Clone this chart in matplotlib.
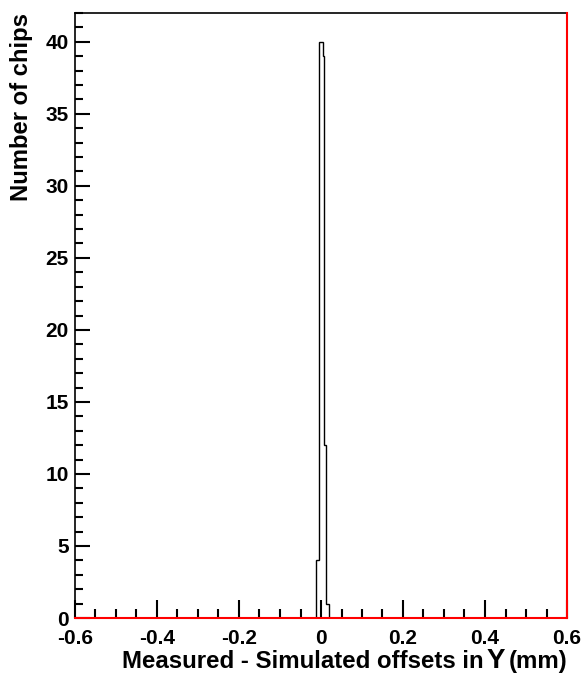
import numpy as np
import matplotlib.pyplot as plt
from matplotlib.ticker import MultipleLocator

# histogram of measured - simulated Y offsets (mm), bin width 0.004
bin_edges = [-0.012, -0.008, -0.004, 0.0, 0.004, 0.008, 0.012, 0.016, 0.020]
chip_counts = [4, 4, 40, 40, 39, 12, 1, 1]

x_ticks = [-0.6, -0.4, -0.2, 0, 0.2, 0.4, 0.6]
x_tick_labels = ['-0.6', '-0.4', '-0.2', '0', '0.2', '0.4', '0.6']
y_ticks = [0, 5, 10, 15, 20, 25, 30, 35, 40]

plt.rcParams['font.family'] = ['Liberation Sans', 'DejaVu Sans']
plt.rcParams['font.weight'] = 'bold'

W, H = 588, 683
fig = plt.figure(figsize=(W / 100, H / 100), dpi=100)
ax = fig.add_axes([75 / W, 1 - 618 / H, (567 - 75) / W, (618 - 13) / H])

ax.stairs(chip_counts, bin_edges, color='black', lw=1.0)

ax.set_xlim(-0.6, 0.6)
ax.set_ylim(0, 42)
ax.set_xticks(x_ticks)
ax.set_xticklabels(x_tick_labels)
ax.set_yticks(y_ticks)
ax.xaxis.set_minor_locator(MultipleLocator(0.05))
ax.yaxis.set_minor_locator(MultipleLocator(1))

ax.tick_params(which='both', direction='in', top=False, right=False, width=1.5,
               labelsize=15, color='black')
ax.tick_params(axis='x', which='major', length=13, pad=8)
ax.tick_params(axis='x', which='minor', length=6.5)
ax.tick_params(axis='y', which='major', length=11, pad=4.5)
ax.tick_params(axis='y', which='minor', length=5.5)
for lab in ax.get_xticklabels() + ax.get_yticklabels():
    lab.set_fontweight('bold')

for s in ax.spines.values():
    s.set_linewidth(1.2)
    s.set_color('black')

# red axis lines on bottom and right, like the original
ax.axhline(0, color='red', lw=1.5, zorder=5, clip_on=False)
ax.axvline(0.6, color='red', lw=1.5, zorder=5, clip_on=False)

# x axis title, right aligned, with a bigger Y
yb = 1 - 668 / H
fig.text(484 / W, yb, 'Measured - Simulated offsets in', ha='right', va='baseline',
         fontsize=17.3, fontweight='bold')
fig.text(505 / W, yb, 'Y', ha='right', va='baseline', fontsize=20)
fig.text(567 / W, yb, '(mm)', ha='right', va='baseline', fontsize=17.3, fontweight='bold')

fig.text(22 / W, 1 - 13 / H, 'Number of chips', rotation=90, ha='center', va='top',
         fontsize=17.2, fontweight='bold')

fig.savefig('out.png', dpi=100)
